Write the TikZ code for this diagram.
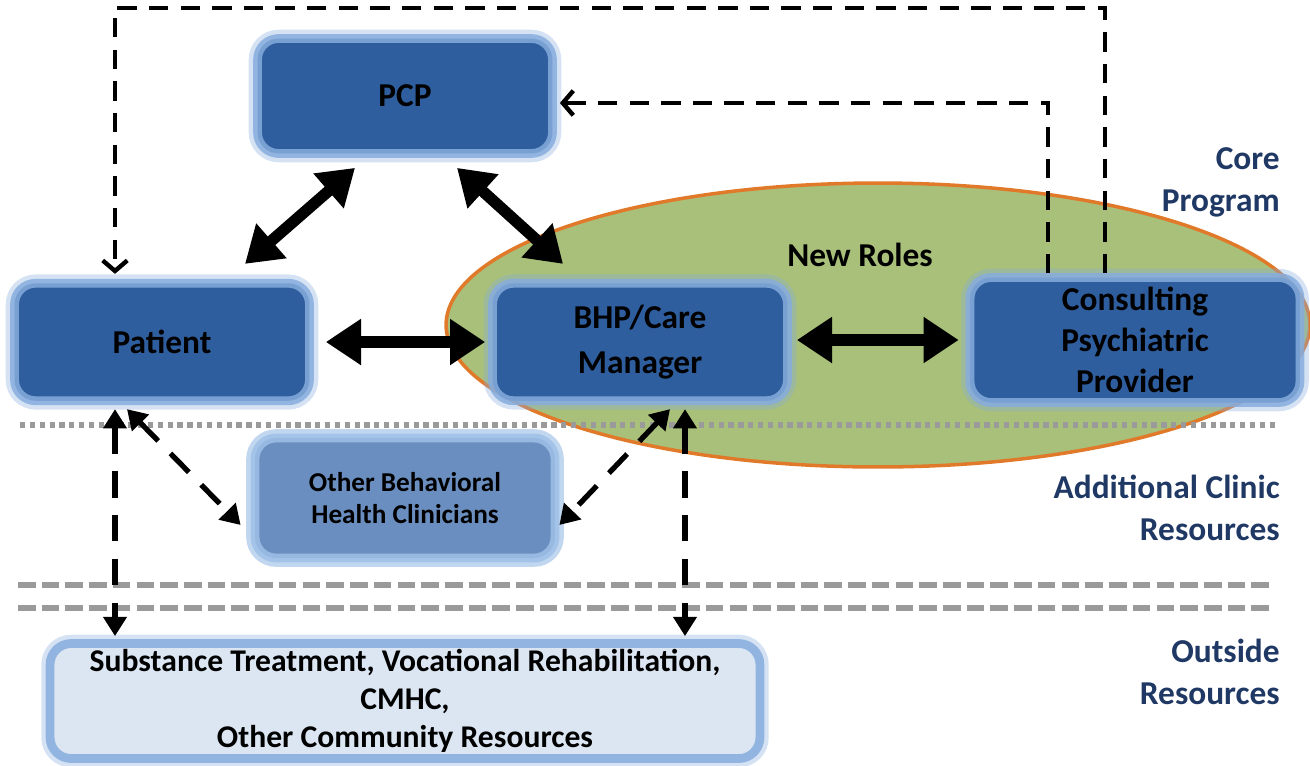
\documentclass[tikz,border=0pt]{standalone}
\usepackage{fontspec}
\setmainfont{Carlito}
\usetikzlibrary{arrows.meta,calc,positioning}
\definecolor{boxblue}{HTML}{2F5E9F}
\definecolor{glowblue}{HTML}{86ACDD}
\definecolor{paleblue}{HTML}{6A8EBF}
\definecolor{paleglow}{HTML}{9EC0E8}
\definecolor{lightfill}{HTML}{DCE6F2}
\definecolor{rolegreen}{HTML}{A9C07A}
\definecolor{roleorange}{HTML}{E07A2A}
\definecolor{tiernavy}{HTML}{1F3864}
\definecolor{sepgray}{HTML}{9A9A9A}

\begin{document}
\begin{tikzpicture}[x=0.02cm,y=-0.02cm,
  role/.style={draw=glowblue,draw opacity=0.85,line width=5pt,fill=boxblue,
    rounded corners=12pt,align=center,inner sep=0pt,
    preaction={draw=glowblue,draw opacity=0.35,line width=10pt},
    font=\fontsize{19}{23.5}\selectfont\bfseries},
  clinic/.style={role,draw=paleglow,fill=paleblue,
    preaction={draw=paleglow,draw opacity=0.35,line width=10pt},
    font=\fontsize{15.5}{18.5}\selectfont\bfseries},
  outside/.style={role,draw=glowblue,fill=lightfill,
    font=\fontsize{18}{21.5}\selectfont\bfseries},
  tier/.style={anchor=east,align=right,text=tiernavy,inner sep=0pt,
    font=\fontsize{19}{24}\selectfont\bfseries},
  biarrow/.style={line width=6.5pt,
    {Triangle[width=25pt,length=20pt]}-{Triangle[width=25pt,length=20pt]}},
  loopline/.style={line width=2.5pt,dash pattern=on 11pt off 7pt,
    -{Straight Barb[length=6pt,width=14pt]}},
  reflink/.style={line width=3pt,dash pattern=on 15pt off 10pt,
    {Triangle[width=13pt,length=11pt]}-{Triangle[width=13pt,length=11pt]}},
  sepline/.style={draw=sepgray,line width=3.5pt}]
  \useasboundingbox (0,0) rectangle (1310,765);

  % New roles
  \draw[fill=rolegreen,draw=roleorange,line width=2pt]
    (878,325) ellipse [x radius=8.64cm,y radius=2.84cm];
  \node[font=\fontsize{19}{23}\selectfont\bfseries] (newroles) at (860,255) {New Roles};

  % Tier separators
  \draw[sepline,line width=3pt,dash pattern=on 3pt off 2.6pt] (20,425) -- (1275,425);
  \draw[sepline,dash pattern=on 10pt off 3.5pt] (18,585) -- (1275,585);
  \draw[sepline,dash pattern=on 10pt off 3.5pt] (18,608) -- (1275,608);

  % Core program
  \node[role,minimum width=5.9cm,minimum height=2.3cm] (pcp) at (405,96) {PCP};
  \node[role,minimum width=5.9cm,minimum height=2.35cm] (patient) at (162,342) {Patient};
  \node[role,minimum width=5.9cm,minimum height=2.35cm,
    font=\fontsize{19}{25.5}\selectfont\bfseries] (bhp) at (640,342) {BHP/Care\\Manager};
  \node[role,minimum width=6.6cm,minimum height=2.5cm] (cpp) at (1135,340)
    {Consulting\\Psychiatric\\Provider};

  % Additional clinic and outside resources
  \node[clinic,minimum width=6cm,minimum height=2.4cm] (obh) at (405,498)
    {Other Behavioral\\Health Clinicians};
  \node[outside,minimum width=14.2cm,minimum height=2.3cm] (comm) at (405,701)
    {Substance Treatment, Vocational Rehabilitation,\\CMHC,\\Other Community Resources};

  % Solid links
  \draw[biarrow] ($(pcp.south)+(-50,10)$) -- ($(patient.north)+(83,-15)$);
  \draw[biarrow] ($(pcp.south)+(52,10)$) -- ($(bhp.north)+(-77,-15)$);
  \draw[biarrow] ($(patient.east)+(12,0)$) -- ($(bhp.west)+(-3,0)$);
  \draw[biarrow] ($(bhp.east)+(5,-2)$) -- ($(bhp.east -| cpp.west)+(-7,-2)$);

  % Consultation loops
  \draw[loopline] ($(cpp.north)+(-30,0)$) -- ++(0,-265) -| ($(patient.north)+(-47,-5)$);
  \draw[loopline] ($(cpp.north)+(-87,0)$) |- ($(pcp.east)+(3,7)$);

  % Referral links
  \draw[reflink] ($(patient.south)+(-47,4)$) -- ($(comm.north)+(-290,-3)$);
  \draw[reflink] ($(patient.south)+(-35,4)$) -- ($(obh.west)+(-10,27)$);
  \draw[reflink] ($(bhp.south)+(30,4)$) -- ($(obh.east)+(0,27)$);
  \draw[reflink] ($(bhp.south)+(45,4)$) -- ($(comm.north)+(280,-3)$);

  % Tier labels
  \node[tier] (core) at (1280,182) {Core\\Program};
  \node[tier] (clinicres) at (1280,508) {Additional Clinic\\Resources};
  \node[tier] (outres) at (1280,672) {Outside\\Resources};
\end{tikzpicture}
\end{document}
